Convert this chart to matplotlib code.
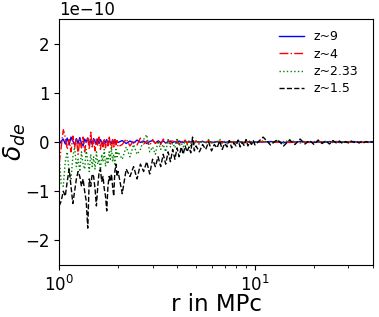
import numpy as np
import matplotlib
matplotlib.use("Agg")
import matplotlib.pyplot as plt

# radial grid (Mpc): fine at small r, coarser further out
r = np.concatenate([
    np.linspace(1.0, 2.0, 41),
    np.linspace(2.1, 5.0, 30),
    np.linspace(5.2, 10.0, 25),
    np.linspace(11.0, 40.0, 30),
])

# delta_de in units of 1e-10
z9 = [-0.05, 0.02, 0.06, -0.04, 0.08, -0.05, 0.1, 0.02, -0.06, 0.07, -0.03, 0.09, -0.02, -0.08, 0.06, 0.0,
      0.08, -0.06, 0.04, -0.05, 0.07, 0.01, -0.04, 0.06, -0.03, 0.05, 0.0, -0.05, 0.04, -0.02, 0.05, -0.04,
      0.03, 0.0, -0.03, 0.04, -0.02, 0.03, -0.04, 0.02, -0.01,
      0.03, -0.03, 0.02, -0.02, 0.04, -0.01, 0.02, -0.03, 0.01, 0.03, -0.02, 0.02, -0.01, 0.02, -0.02, 0.01,
      0.02, -0.01, 0.01, -0.02, 0.02, 0.0, -0.01, 0.02, -0.01, 0.01, 0.0, 0.01, -0.01, 0.01,
      0.0, 0.01, -0.01, 0.01, 0.0, -0.01, 0.01, 0.0, 0.01, -0.01, 0.0, 0.01, 0.0, -0.01, 0.0, 0.01, 0.0, 0.0,
      -0.01, 0.0, 0.01, 0.0, 0.0, -0.01, 0.0,
      0.0, 0.01, 0.0, -0.01, 0.0, 0.0, 0.01, 0.0, 0.0, -0.01, 0.0, 0.0, 0.0, 0.01, 0.0, 0.0, -0.01, 0.0,
      0.0, 0.0, 0.0, 0.01, 0.0, 0.0, 0.0, -0.01, 0.0, 0.0, 0.0, 0.0]

z4 = [-0.45, -0.1, 0.25, 0.1, -0.15, 0.05, -0.2, 0.12, -0.1, 0.08, -0.25, 0.05, -0.12, 0.1, -0.2, 0.02,
      0.08, -0.15, 0.2, -0.1, 0.05, -0.18, 0.06, -0.08, 0.1, -0.15, 0.03, -0.1, 0.07, -0.12, 0.04, -0.08,
      0.12, -0.05, -0.15, 0.05, -0.1, 0.08, -0.06, 0.03, -0.1,
      -0.05, 0.06, -0.08, 0.03, -0.06, 0.08, -0.04, 0.02, -0.07, 0.05, -0.03, 0.04, -0.05, 0.06, -0.02, 0.03,
      -0.04, 0.05, -0.02, 0.02, -0.05, 0.03, -0.01, 0.04, -0.03, 0.02, -0.02, 0.03, -0.01, 0.02,
      -0.02, 0.02, -0.01, 0.03, -0.02, 0.01, -0.01, 0.02, -0.02, 0.01, 0.0, 0.02, -0.01, 0.01, -0.02, 0.01,
      0.0, 0.01, -0.01, 0.01, 0.0, -0.01, 0.01, 0.0, -0.01,
      0.01, -0.01, 0.0, 0.01, -0.01, 0.0, 0.01, 0.0, -0.01, 0.0, 0.01, 0.0, 0.0, -0.01, 0.0, 0.01, 0.0, 0.0,
      -0.01, 0.0, 0.0, 0.01, 0.0, 0.0, -0.01, 0.0, 0.0, 0.0, 0.01, 0.0]

z233 = [-0.3, -0.85, -0.9, -0.4, -0.2, -0.6, -0.75, -0.3, -0.1, -0.5, -0.35, -0.6, -0.2, -0.45, -0.55, -0.15,
        -0.4, -0.6, -0.25, -0.5, -0.3, -0.55, -0.2, -0.45, -0.35, -0.6, -0.25, -0.4, -0.15, -0.5, -0.3, -0.45,
        -0.2, -0.35, -0.1, -0.4, -0.25, -0.45, -0.15, -0.3, -0.2,
        -0.35, -0.1, -0.3, -0.05, -0.25, -0.15, 0.05, 0.15, -0.2, -0.1, -0.25, 0.02, -0.15, -0.05, -0.2, 0.05,
        -0.1, -0.02, -0.12, 0.08, -0.08, -0.02, -0.1, 0.03, -0.06, 0.0, -0.08, 0.04, -0.04, 0.02,
        -0.05, 0.03, -0.03, 0.05, -0.04, 0.02, -0.02, 0.06, -0.03, 0.01, -0.04, 0.03, -0.01, 0.02, -0.03, 0.04,
        -0.02, 0.01, -0.02, 0.03, -0.01, 0.02, -0.02, 0.01, 0.0,
        0.02, -0.01, 0.03, -0.02, 0.05, 0.0, -0.02, 0.02, -0.01, 0.01, 0.0, -0.01, 0.02, 0.0, -0.01, 0.01,
        0.0, 0.0, -0.01, 0.01, 0.0, 0.0, -0.01, 0.0, 0.01, 0.0, 0.0, -0.01, 0.0, 0.0]

z15 = [-1.3, -1.2, -1.0, -1.1, -0.8, -0.55, -0.9, -1.25, -1.0, -0.75, -0.6, -0.7, -0.9, -0.75, -1.0, -1.2,
       -1.75, -0.75, -0.9, -0.65, -0.7, -0.95, -1.3, -0.9, -0.6, -0.55, -0.8, -0.7, -0.95, -1.1, -1.4, -0.9,
       -0.7, -0.8, -0.65, -0.9, -1.1, -0.6, -0.45, -0.7, -0.6,
       -1.05, -0.55, -0.7, -0.5, -0.75, -0.45, -0.6, -0.4, -0.65, -0.35, -0.5, -0.3, -0.5, -0.25, -0.45, -0.2,
       -0.4, -0.15, -0.35, -0.12, -0.3, -0.1, -0.25, -0.08, -0.2, -0.1, -0.22, 0.1, -0.18, -0.08,
       -0.2, -0.05, -0.15, 0.0, -0.18, -0.05, -0.12, 0.02, -0.15, -0.03, -0.1, 0.03, -0.12, -0.02, -0.08, 0.04,
       -0.1, -0.01, -0.07, 0.05, -0.08, 0.0, -0.05, 0.03, -0.06,
       0.1, -0.06, 0.05, -0.08, 0.04, -0.05, 0.06, -0.04, 0.03, -0.05, 0.04, -0.03, 0.02, -0.04, 0.03, -0.02,
       0.02, -0.03, 0.01, -0.02, 0.02, -0.01, 0.01, -0.02, 0.01, -0.01, 0.01, -0.01, 0.0, 0.0]

scale = 1e-10

fig = plt.figure(figsize=(3.79, 3.17), dpi=100)
ax = fig.add_axes([0.156, 0.164, 0.828, 0.776])

ax.plot(r, np.array(z9) * scale, color="b", ls="-", lw=1, label="z~9")
ax.plot(r, np.array(z4) * scale, color="r", ls="-.", lw=1, label="z~4")
ax.plot(r, np.array(z233) * scale, color="g", ls=":", lw=1, label="z~2.33")
ax.plot(r, np.array(z15) * scale, color="k", ls="--", lw=1, label="z~1.5")

ax.set_xscale("log")
ax.set_xlim(1, 40)
ax.set_ylim(-2.5e-10, 2.5e-10)
ax.set_yticks([-2e-10, -1e-10, 0, 1e-10, 2e-10])
ax.tick_params(axis="both", which="major", labelsize=12)
ax.yaxis.get_offset_text().set_fontsize(12)

ax.set_xlabel("r in MPc", fontsize=16.5, labelpad=-1)
ax.set_ylabel(r"$\delta_{de}$", fontsize=18)
ax.yaxis.set_label_coords(-0.10, 0.5)

ax.legend(loc="upper right", frameon=False, fontsize=9, handlelength=2.0,
          labelspacing=0.35, bbox_to_anchor=(0.99, 1.0))

fig.savefig("out.png", dpi=100)
